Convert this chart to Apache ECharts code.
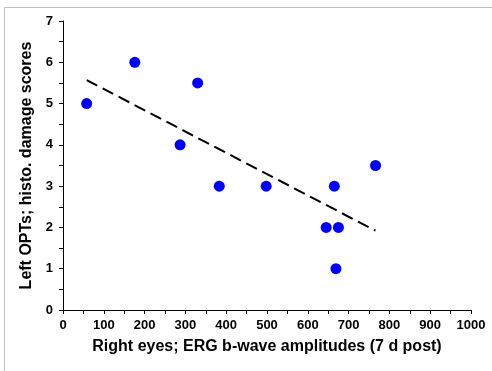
<!DOCTYPE html>
<html><head><meta charset="utf-8">
<script src="https://cdn.jsdelivr.net/npm/echarts@6/dist/echarts.min.js"></script>
<style>html,body{margin:0;padding:0;background:#fff}#c{width:492px;height:371px}</style>
</head><body><div id="c"></div>
<script>
const ergAmplitudes = [58, 176, 330, 287, 383, 498, 665, 766, 645, 675, 669];
const damageScores  = [5, 6, 5.5, 4, 3, 3, 3, 3.5, 2, 2, 1];
const trendX = [58, 766];
const trendY = [5.57, 1.92];
const xTitle = 'Right eyes; ERG b-wave amplitudes (7 d post)';
const yTitle = 'Left OPTs; histo. damage scores';

const points = ergAmplitudes.map((x, i) => [x, damageScores[i]]);
const trend = trendX.map((x, i) => [x, trendY[i]]);
const font = 'Liberation Sans, Arial, sans-serif';

const chart = echarts.init(document.getElementById('c'));
chart.setOption({
  animation: false,
  backgroundColor: '#fff',
  grid: { left: 63, top: 21, right: 21, bottom: 61, containLabel: false },
  graphic: [
    { type: 'line', shape: { x1: 4.5, y1: 7.5, x2: 492, y2: 7.5 }, style: { stroke: '#c0c0c0', lineWidth: 1 } },
    { type: 'line', shape: { x1: 4.5, y1: 7.5, x2: 4.5, y2: 371 }, style: { stroke: '#c0c0c0', lineWidth: 1 } }
  ],
  xAxis: {
    type: 'value', min: 0, max: 1000, interval: 100,
    name: xTitle, nameLocation: 'middle', nameGap: 29,
    nameTextStyle: { fontFamily: font, fontWeight: 'bold', fontSize: 16, color: '#000' },
    axisLine: { lineStyle: { color: '#000', width: 1 } },
    axisTick: { show: true, inside: false, length: 4, lineStyle: { color: '#000' } },
    minorTick: { show: true, splitNumber: 2, length: 4, lineStyle: { color: '#000' } },
    axisLabel: { fontFamily: font, fontWeight: 'bold', fontSize: 13, color: '#000', margin: 9,
      formatter: v => String(v) },
    splitLine: { show: false }
  },
  yAxis: {
    type: 'value', min: 0, max: 7, interval: 1,
    name: yTitle, nameLocation: 'middle', nameGap: 28,
    nameTextStyle: { fontFamily: font, fontWeight: 'bold', fontSize: 16, color: '#000' },
    axisLine: { show: true, lineStyle: { color: '#000', width: 1 } },
    axisTick: { show: true, inside: false, length: 4, lineStyle: { color: '#000' } },
    minorTick: { show: true, splitNumber: 2, length: 4, lineStyle: { color: '#000' } },
    axisLabel: { fontFamily: font, fontWeight: 'bold', fontSize: 13, color: '#000', margin: 10 },
    splitLine: { show: false }
  },
  series: [
    {
      type: 'line', data: trend, symbol: 'none', silent: true,
      lineStyle: { color: '#000', width: 2, type: [12, 6] }, z: 1
    },
    {
      type: 'scatter', data: points, symbol: 'circle', symbolSize: 11,
      itemStyle: { color: '#0000ff', opacity: 1 }, z: 2
    }
  ]
});
</script></body></html>
